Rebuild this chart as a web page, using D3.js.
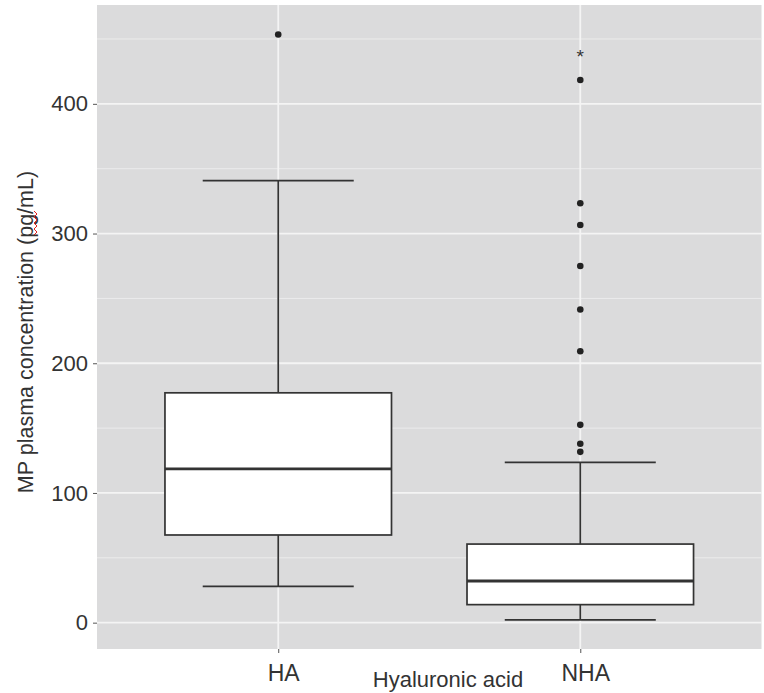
<!DOCTYPE html>
<html>
<head>
<meta charset="utf-8">
<script src="https://cdn.jsdelivr.net/npm/d3@7"></script>
<style>
  body { margin: 0; background: #fff; }
  svg text { font-family: "Liberation Sans", Arial, sans-serif; }
</style>
</head>
<body>
<div id="boxplot"></div>
<script>
// groups on the x axis
var groups = ["HA", "NHA"];
// box summary values per group (pg/mL)
var whiskerLow  = [28.0, 2.1];
var q1          = [67.6, 13.9];
var medians     = [118.6, 32.1];
var q3          = [177.2, 60.6];
var whiskerHigh = [340.8, 123.6];
// outlying points per group
var outliersHA  = [453.5];
var outliersNHA = [131.7, 137.9, 152.5, 209.3, 241.4, 275.0, 306.6, 323.3, 418.4];
// the asterisk annotation above NHA
var starGroup = "NHA";
var starValue = 438.7;
// axis ticks
var yMajor = [0, 100, 200, 300, 400];
var yMinor = [50, 150, 250, 350, 450];

/**
 * Constructor
 */
function BoxPlot(){
    var self = this;
    self.init();
    self.visualize();
}; // end constructor

BoxPlot.prototype.init = function(){
    var self = this;
    self.width = 764;
    self.height = 693;
    self.panel = {left: 97, right: 761.5, top: 5, bottom: 649};

    self.svg = d3.select("#boxplot").append("svg")
        .attr("width", self.width)
        .attr("height", self.height);

    self.x = d3.scalePoint()
        .domain(groups)
        .range([self.panel.left, self.panel.right])
        .padding(0.6);

    self.y = d3.scaleLinear()
        .domain([-20.3, 476.2])
        .range([self.panel.bottom, self.panel.top]);
}; // end init()

BoxPlot.prototype.visualize = function(){
    var self = this;
    var p = self.panel;
    var step = self.x.step();
    var boxW = step * 0.75;
    var capW = step * 0.5;
    var ink = "#333333";

    // grey panel background
    self.svg.append("rect")
        .attr("x", p.left).attr("y", p.top)
        .attr("width", p.right - p.left).attr("height", p.bottom - p.top)
        .attr("fill", "#dbdbdc");

    // minor grid
    self.svg.selectAll(".minor").data(yMinor).enter().append("line")
        .attr("x1", p.left).attr("x2", p.right)
        .attr("y1", function(d){ return self.y(d); })
        .attr("y2", function(d){ return self.y(d); })
        .attr("stroke", "#ececec").attr("stroke-width", 1);

    // major grid, horizontal and vertical
    self.svg.selectAll(".major").data(yMajor).enter().append("line")
        .attr("x1", p.left).attr("x2", p.right)
        .attr("y1", function(d){ return self.y(d); })
        .attr("y2", function(d){ return self.y(d); })
        .attr("stroke", "#f4f4f4").attr("stroke-width", 1.8);
    self.svg.selectAll(".vmajor").data(groups).enter().append("line")
        .attr("y1", p.top).attr("y2", p.bottom)
        .attr("x1", function(d){ return self.x(d); })
        .attr("x2", function(d){ return self.x(d); })
        .attr("stroke", "#f4f4f4").attr("stroke-width", 1.8);

    // one row per group built from the arrays above
    var rows = groups.map(function(g, i){
        return {g: g, lo: whiskerLow[i], q1: q1[i], med: medians[i], q3: q3[i], hi: whiskerHigh[i]};
    });

    var box = self.svg.selectAll(".box").data(rows).enter().append("g");

    // whiskers
    box.append("line")
        .attr("x1", function(d){ return self.x(d.g); }).attr("x2", function(d){ return self.x(d.g); })
        .attr("y1", function(d){ return self.y(d.hi); }).attr("y2", function(d){ return self.y(d.lo); })
        .attr("stroke", ink).attr("stroke-width", 1.7);
    // caps
    ["hi", "lo"].forEach(function(k){
        box.append("line")
            .attr("x1", function(d){ return self.x(d.g) - capW/2; })
            .attr("x2", function(d){ return self.x(d.g) + capW/2; })
            .attr("y1", function(d){ return self.y(d[k]); })
            .attr("y2", function(d){ return self.y(d[k]); })
            .attr("stroke", ink).attr("stroke-width", 1.7);
    });
    // boxes
    box.append("rect")
        .attr("x", function(d){ return self.x(d.g) - boxW/2; })
        .attr("width", boxW)
        .attr("y", function(d){ return self.y(d.q3); })
        .attr("height", function(d){ return self.y(d.q1) - self.y(d.q3); })
        .attr("fill", "#ffffff").attr("stroke", ink).attr("stroke-width", 1.7);
    // medians
    box.append("line")
        .attr("x1", function(d){ return self.x(d.g) - boxW/2; })
        .attr("x2", function(d){ return self.x(d.g) + boxW/2; })
        .attr("y1", function(d){ return self.y(d.med); })
        .attr("y2", function(d){ return self.y(d.med); })
        .attr("stroke", ink).attr("stroke-width", 2.9);

    // outliers
    var pts = outliersHA.map(function(v){ return {g: "HA", v: v}; })
        .concat(outliersNHA.map(function(v){ return {g: "NHA", v: v}; }));
    self.svg.selectAll(".outlier").data(pts).enter().append("circle")
        .attr("cx", function(d){ return self.x(d.g); })
        .attr("cy", function(d){ return self.y(d.v); })
        .attr("r", 3.3)
        .attr("fill", "#222222");

    // asterisk
    self.svg.append("text")
        .attr("x", self.x(starGroup))
        .attr("y", self.y(starValue) + 9)
        .attr("text-anchor", "middle")
        .attr("font-size", 19)
        .attr("fill", "#333")
        .text("*");

    // y axis
    var yAxis = self.svg.append("g")
        .attr("transform", "translate(" + p.left + ",0)")
        .call(d3.axisLeft(self.y).tickValues(yMajor).tickSize(4).tickPadding(5));
    yAxis.select(".domain").remove();
    yAxis.selectAll(".tick line").attr("stroke", "#555");
    yAxis.selectAll(".tick text").attr("font-size", 22).attr("fill", "#333")
        .attr("font-family", "Liberation Sans, Arial, sans-serif");

    // x axis
    var xAxis = self.svg.append("g")
        .attr("transform", "translate(0," + p.bottom + ")")
        .call(d3.axisBottom(self.x).tickSize(4).tickPadding(12));
    xAxis.select(".domain").remove();
    xAxis.selectAll(".tick line").attr("stroke", "#555");
    xAxis.selectAll(".tick text").attr("font-size", 23).attr("fill", "#333")
        .attr("dx", 5)
        .attr("font-family", "Liberation Sans, Arial, sans-serif");

    // axis titles
    self.svg.append("text")
        .attr("x", 448).attr("y", 687)
        .attr("text-anchor", "middle")
        .attr("font-size", 22).attr("fill", "#333")
        .text("Hyaluronic acid");

    self.svg.append("text")
        .attr("transform", "translate(33," + ((p.top + p.bottom) / 2 + 5) + ") rotate(-90)")
        .attr("text-anchor", "middle")
        .attr("font-size", 21.5).attr("fill", "#333")
        .text("MP plasma concentration (pg/mL)");

    // red spell-check squiggle under "pg"
    var sq = d3.range(0, 9).map(function(i){ return [i % 2 ? 37 : 34, 211 + i * 3]; });
    self.svg.append("path")
        .attr("d", d3.line()(sq))
        .attr("fill", "none").attr("stroke", "#e02020").attr("stroke-width", 1);
}; // end visualize()

new BoxPlot();
</script>
</body>
</html>
